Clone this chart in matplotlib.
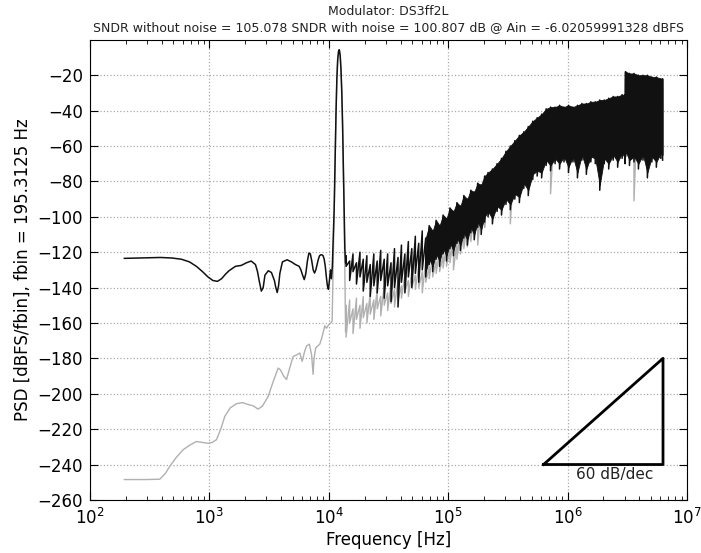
import numpy as np
import matplotlib
matplotlib.use("Agg")
import matplotlib.pyplot as plt

# ---------------------------------------------------------------- data
# low frequency part of the spectrum, incl. the signal peak (with noise)
black_lf_f = [195, 293, 391, 488, 586, 684, 781, 879, 977, 1074, 1172, 1270, 1367, 1465,
              1660, 1855, 2051, 2246, 2441, 2539, 2637, 2734, 2832, 2930, 3125, 3320, 3516,
              3613, 3711, 3809, 3906, 4102, 4492, 4883, 5273, 5664, 5859, 6055, 6250, 6445,
              6641, 6836, 7031, 7227, 7422, 7617, 7813, 8008, 8203, 8398, 8594, 8789, 8984,
              9180, 9375, 9570, 9766, 9961, 10156, 10352, 10547, 10742, 10938, 11133, 11328,
              11523, 11719, 11914, 12109, 12250, 12305, 12500, 12695, 12891, 13086, 13281,
              13477, 13672, 13867]
black_lf_db = [-123.5, -123.2, -123.0, -123.3, -124.0, -125.5, -128.0, -131.0, -134.0, -136.0,
               -136.5, -135.0, -132.5, -130.5, -128.0, -127.5, -126.0, -125.0, -127.0, -131.0,
               -137.0, -142.0, -140.0, -133.0, -130.5, -131.5, -136.0, -140.0, -142.8, -139.0,
               -132.0, -125.5, -124.3, -125.5, -127.0, -128.0, -130.0, -133.0, -135.5, -132.0,
               -125.0, -120.5, -121.0, -125.0, -130.0, -131.8, -130.0, -127.0, -124.0, -122.0,
               -121.5, -121.5, -122.0, -124.0, -128.0, -134.0, -139.0, -141.0, -136.0, -130.0,
               -135.0, -128.0, -112.0, -95.0, -68.0, -42.0, -22.0, -11.0, -6.5, -5.6, -5.8,
               -9.0, -17.0, -30.0, -48.0, -72.0, -98.0, -118.0, -126.0]

# low frequency part without noise
gray_lf_f = [195, 293, 386, 430, 468, 530, 604, 690, 781, 880, 979, 1060, 1150, 1250, 1352,
             1500, 1690, 1900, 2100, 2330, 2570, 2790, 3120, 3400, 3780, 3950, 4200, 4440,
             4700, 5040, 5400, 5740, 6000, 6300, 6530, 6900, 7200, 7410, 7550, 7800, 8100,
             8430, 8800, 9290, 9600, 10000, 10400, 10700, 10938, 11133, 11328, 11523, 11719,
             11914, 12109, 12250, 12305, 12500, 12695, 12891, 13086, 13281, 13477, 13672, 13867]
gray_lf_db = [-248.5, -248.5, -248.3, -245.0, -241.0, -236.0, -231.7, -229.0, -227.0, -227.5,
              -228.0, -227.5, -226.0, -220.0, -212.8, -208.0, -205.7, -205.0, -206.0, -206.8,
              -208.7, -207.0, -201.5, -194.0, -185.5, -186.5, -190.0, -192.0, -186.0, -179.0,
              -178.0, -177.0, -181.7, -176.0, -173.0, -172.0, -178.0, -189.0, -180.0, -174.0,
              -173.0, -172.0, -168.0, -161.6, -163.0, -161.0, -160.0, -159.0, -125.0, -98.0,
              -68.0, -42.0, -22.0, -11.0, -6.5, -5.6, -5.8, -9.0, -17.0, -30.0, -48.0, -72.0,
              -98.0, -130.0, -165.0]

# shaped noise band: upper / lower excursions at each frequency
noise_f = [14000, 15000, 16000, 17100, 18300, 19500, 20900, 22300, 23900, 25500, 27300, 29200,
           31200, 33300, 35600, 38100, 40700, 43500, 46500, 49700, 53200, 56800, 60800, 65000,
           69500, 74300, 79400, 84900, 90800, 97000, 103700, 110900, 118600, 126800, 135500,
           144900, 154900, 165600, 177000, 189300, 202300,
           216000, 235000, 257000, 280000, 305000, 332000, 362000, 395000, 430000, 469000,
           511000, 557000, 607000, 662000, 721000, 786000, 857000, 934000, 1018000, 1110000,
           1210000, 1318000, 1437000, 1566000, 1707000, 1861000, 2028000, 2211000, 2410000,
           2627000, 2863000, 3030000, 3060000, 3300000, 3600000, 3920000, 4280000, 4660000,
           5080000, 5540000, 6040000, 6250000]
black_hi = [-122, -125, -121, -126, -120, -124, -122, -127, -121, -125, -119, -124, -121, -126,
            -118, -123, -116, -121, -114, -118, -111, -115, -108, -112, -105, -108, -102, -105,
            -99, -101, -95, -97, -92, -94, -88, -90, -85, -86, -81, -82, -77,
            -75, -73, -70, -67, -63, -60, -57, -54, -52, -49, -46, -44, -42, -39, -38, -38, -37,
            -38, -37, -38, -37, -36, -36, -35, -35, -34, -34, -33, -32, -32, -31, -31, -18, -19,
            -19, -20, -20, -20, -21, -21, -22, -22]
black_lo = [-128, -136, -131, -138, -134, -142, -137, -145, -139, -143, -136, -146, -139, -148,
            -140, -151, -137, -143, -134, -140, -132, -137, -130, -134, -127, -131, -124, -128,
            -121, -125, -118, -122, -115, -119, -112, -116, -109, -113, -106, -110, -103,
            -100, -104, -97, -99, -93, -96, -90, -92, -84, -88, -79, -77, -78, -71, -74, -70, -73,
            -69, -75, -69, -78, -68, -76, -69, -70, -85, -70, -73, -68, -72, -67, -70, -66, -71,
            -69, -73, -68, -78, -69, -72, -67, -68]
gray_hi = [-150, -147, -152, -146, -150, -145, -149, -143, -147, -141, -145, -139, -143, -138,
           -141, -136, -139, -133, -136, -131, -133, -128, -131, -125, -128, -122, -125, -119,
           -122, -116, -118, -112, -114, -108, -110, -104, -105, -99, -100, -95, -96,
           -80, -78, -75, -72, -68, -65, -62, -59, -57, -54, -51, -49, -47, -44, -43, -43, -42,
           -43, -42, -43, -42, -41, -41, -40, -40, -39, -39, -38, -37, -37, -36, -36, -22, -23,
           -24, -24, -25, -25, -26, -26, -27, -27]
gray_lo = [-168, -160, -166, -158, -163, -157, -160, -155, -158, -152, -156, -150, -153, -149,
           -151, -147, -146, -142, -145, -140, -141, -140, -143, -137, -135, -134, -132, -131,
           -129, -128, -126, -130, -124, -121, -118, -117, -114, -112, -116, -108, -106,
           -97, -101, -94, -96, -90, -104, -87, -89, -81, -85, -76, -74, -75, -68, -87, -67, -70,
           -66, -72, -66, -75, -65, -73, -66, -67, -82, -67, -70, -65, -69, -64, -67, -63, -68,
           -91, -70, -65, -75, -66, -69, -64, -65]

# 60 dB/dec reference slope
slope_f = [6.3e5, 6.3e6, 6.3e6, 6.3e5]
slope_db = [-240, -180, -240, -240]

title = ("Modulator: DS3ff2L\n"
         "SNDR without noise = 105.078 SNDR with noise = 100.807 dB @ Ain = -6.02059991328 dBFS")


def zigzag(f, hi, lo):
    # alternate between upper and lower excursion at each frequency
    f = np.asarray(f, float)
    x = np.repeat(f, 2)
    y = np.empty(2 * len(f))
    y[0::2] = hi
    y[1::2] = lo
    return x, y


# ---------------------------------------------------------------- plot
fig = plt.figure(figsize=(7.01, 5.53), dpi=100)
ax = fig.add_axes([0.128, 0.096, 0.852, 0.832])

gx, gy = zigzag(noise_f, gray_hi, gray_lo)
bx, by = zigzag(noise_f, black_hi, black_lo)

ax.plot(np.concatenate([gray_lf_f, gx]), np.concatenate([gray_lf_db, gy]),
        color='#b0b0b0', lw=1.0, zorder=2)
ax.plot(np.concatenate([black_lf_f, bx]), np.concatenate([black_lf_db, by]),
        color='#111111', lw=1.1, zorder=3)

# the band is so dense there that it renders solid
nf = np.asarray(noise_f, float)
dense = nf >= 6.5e4
ax.fill_between(nf[dense], np.asarray(black_lo)[dense] + 3, np.asarray(black_hi)[dense],
                color='#111111', lw=0.6, zorder=3)

ax.plot(slope_f, slope_db, color='black', lw=2, zorder=4)
ax.text(np.sqrt(slope_f[0] * slope_f[1]) * 1.25, slope_db[0] - 1.5, "60 dB/dec",
        ha='center', va='top', fontsize=11, color='#222222')

ax.set_xscale('log')
ax.set_xlim(1e2, 1e7)
ax.set_ylim(-260, 0)
ax.set_yticks(np.arange(-260, -19, 20))
ax.grid(True, which='major', linestyle=':', color='#aaaaaa', lw=0.9)
ax.tick_params(which='both', direction='in', top=True, right=True, labelsize=12)
ax.tick_params(which='major', length=6)
ax.tick_params(which='minor', length=3)
ax.tick_params(axis='x', pad=6)
ax.tick_params(axis='y', pad=5)
ax.set_xlabel("Frequency [Hz]", fontsize=12, labelpad=2)
ax.set_ylabel("PSD [dBFS/fbin], fbin = 195.3125 Hz", fontsize=12)
ax.set_title(title, fontsize=9, linespacing=1.3, color='#222222')

fig.savefig("out.png", dpi=100)
